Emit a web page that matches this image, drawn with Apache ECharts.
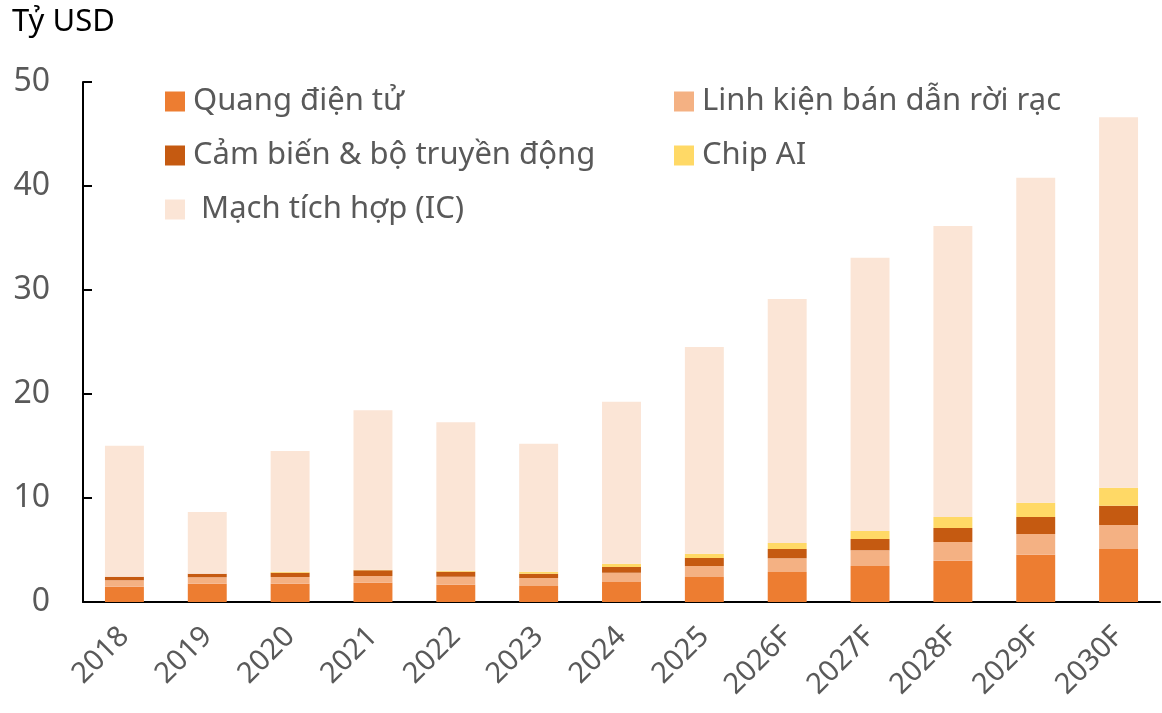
<!DOCTYPE html>
<html>
<head>
<meta charset="utf-8">
<script src="https://cdn.jsdelivr.net/npm/echarts@6/dist/echarts.min.js"></script>
<style>
html,body{margin:0;padding:0;background:#fff;}
#chart{width:1162px;height:713px;}
</style>
</head>
<body>
<div id="chart"></div>
<script>
var years=['2018','2019','2020','2021','2022','2023','2024','2025','2026F','2027F','2028F','2029F','2030F'];
// Tỷ USD
var quangDienTu=[1.47,1.76,1.76,1.86,1.66,1.54,1.92,2.4,2.88,3.46,3.97,4.55,5.1];
var linhKien=[0.63,0.61,0.64,0.64,0.77,0.77,0.9,1.06,1.32,1.51,1.8,1.99,2.3];
var camBien=[0.33,0.35,0.42,0.55,0.48,0.41,0.55,0.77,0.9,1.09,1.35,1.63,1.86];
var chipAI=[0,0,0.08,0.05,0.09,0.19,0.31,0.41,0.57,0.77,1.05,1.38,1.73];
var machIC=[12.6,5.93,11.62,15.33,14.28,12.31,15.58,19.88,23.46,26.27,27.98,31.25,35.61];
var yTicks=[0,10,20,30,40,50];

var names=['Quang điện tử','Linh kiện bán dẫn rời rạc','Cảm biến & bộ truyền động','Chip AI',' Mạch tích hợp (IC)'];
var colors=['#ED7D31','#F4B183','#C55A11','#FFD966','#FBE5D6'];
var datas=[quangDienTu,linhKien,camBien,chipAI,machIC];

var font='"Noto Sans", "Open Sans", sans-serif';
var series=[];
for(var i=0;i<names.length;i++){
    series.push({
        name:names[i],
        type:'bar',
        stack:'total',
        barWidth:'47%',
        itemStyle:{color:colors[i]},
        data:datas[i]
    });
}

var legendStyle={color:'#595959',fontSize:31,fontFamily:font,padding:[0,0,0,3]};
var chart=echarts.init(document.getElementById('chart'));
chart.setOption({
    animation:false,
    textStyle:{fontFamily:font},
    title:{
        text:'Tỷ USD',left:7,top:2,
        textStyle:{color:'#000',fontSize:31,fontWeight:'normal',fontFamily:font}
    },
    legend:[{
        data:[names[0],names[2],names[4]],
        orient:'vertical',left:160,top:81,itemGap:23,
        itemWidth:20,itemHeight:20,
        icon:'rect',textStyle:legendStyle
    },{
        data:[names[1],names[3]],
        orient:'vertical',left:669,top:81,itemGap:23,
        itemWidth:20,itemHeight:20,
        icon:'rect',textStyle:legendStyle
    }],
    grid:{left:83,right:2,top:82,bottom:111},
    xAxis:{
        type:'category',
        data:years,
        axisLine:{lineStyle:{color:'#000',width:2}},
        axisTick:{inside:true,length:10,lineStyle:{color:'#000',width:2}},
        axisLabel:{rotate:45,color:'#595959',fontSize:29,margin:30,fontFamily:font}
    },
    yAxis:{
        type:'value',
        min:yTicks[0],max:yTicks[yTicks.length-1],interval:10,
        axisLine:{show:true,lineStyle:{color:'#000',width:2}},
        axisTick:{show:true,inside:true,length:9,lineStyle:{color:'#000',width:2}},
        splitLine:{show:false},
        axisLabel:{color:'#595959',fontSize:32,margin:33,fontFamily:font}
    },
    series:series
});
</script>
</body>
</html>
